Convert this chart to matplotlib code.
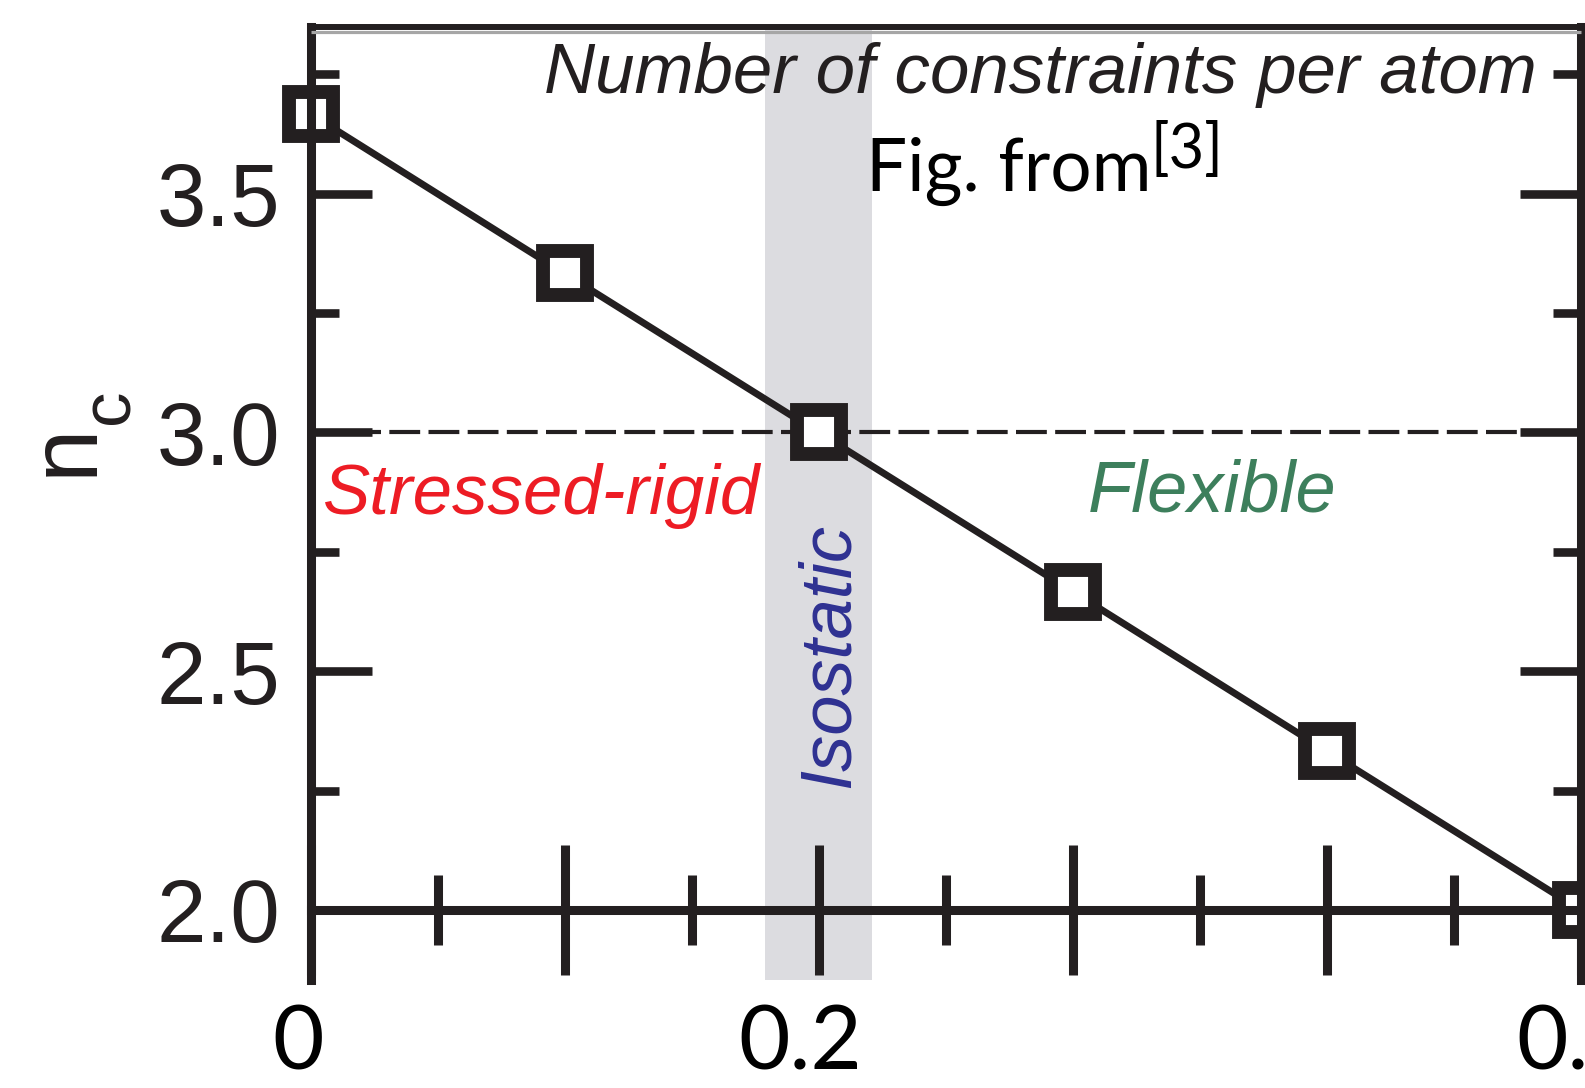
import matplotlib
matplotlib.use("Agg")
import matplotlib.pyplot as plt
import numpy as np
from matplotlib.transforms import ScaledTranslation, blended_transform_factory

# Mean number of constraints per atom versus composition
x = [0.0, 0.1, 0.2, 0.3, 0.4, 0.5]
n_c = [3.667, 3.333, 3.0, 2.667, 2.333, 2.0]

isostatic_band = (0.179, 0.221)
rigidity_threshold = 3.0

x_major = [0.0, 0.1, 0.2, 0.3, 0.4, 0.5]
x_minor = [0.05, 0.15, 0.25, 0.35, 0.45]
x_label_vals = [0.0, 0.2, 0.5]
x_label_text = ["0", "0.2", "0.5"]

y_major = [2.0, 2.5, 3.0, 3.5]
y_major_text = ["2.0", "2.5", "3.0", "3.5"]
y_minor = [2.25, 2.75, 3.25, 3.75]

INK = "#231f20"
W, H = 1585, 1088

plt.rcParams["font.family"] = ["Liberation Sans", "DejaVu Sans"]


def px(xp, yp):
    return xp / W, 1 - yp / H


fig = plt.figure(figsize=(W / 100, H / 100), dpi=100)
ax = fig.add_axes([310.5 / W, 1 - 980 / H, (1580.5 - 310.5) / W, (980 - 27) / H])
ax.set_xlim(0, 0.5)
ax.set_ylim(1.8534, 3.8492)

# shaded isostatic window and the n_c = 3 threshold
ax.axvspan(*isostatic_band, color="#dcdce0", lw=0, zorder=0)
ax.axhline(rigidity_threshold, color=INK, lw=3, ls=(0, (7.4, 2.0)), zorder=1)

ax.plot(x, n_c, color=INK, lw=5, marker="s", ms=31.7, mew=10,
        mfc="white", mec=INK, clip_on=False, zorder=2)

# frame
for side in ["left", "right", "bottom"]:
    ax.spines[side].set_linewidth(6.5)
    ax.spines[side].set_color(INK)
ax.spines["top"].set_linewidth(4.3)
ax.spines["top"].set_color(INK)
ax.spines["bottom"].set_position(("data", 2.0))
ax.plot([0, 1], [1, 1], transform=ax.transAxes + ScaledTranslation(0, -0.05, fig.dpi_scale_trans),
        color="#a6a6a6", lw=2.3, clip_on=False, solid_capstyle="butt", zorder=3)

ax.set_xticks(x_major)
ax.set_xticks(x_minor, minor=True)
ax.tick_params(axis="x", which="both", direction="inout", bottom=True, top=False,
               labelbottom=False, width=6.5, color=INK)
ax.tick_params(axis="x", which="major", length=94)
ax.tick_params(axis="x", which="minor", length=50)

ax.set_yticks(y_major, y_major_text)
ax.set_yticks(y_minor, minor=True)
ax.tick_params(axis="y", which="both", direction="in", left=True, right=True,
               width=6.2, color=INK, labelsize=64, labelcolor=INK, pad=22)
ax.tick_params(axis="y", which="major", length=44)
ax.tick_params(axis="y", which="minor", length=20.5)

# y-axis label n_c, written upward
fig.text(*px(92, 449.5), "n", rotation=90, rotation_mode="anchor", ha="center",
         va="baseline", fontsize=69, color=INK)
fig.text(*px(128, 406), "c", rotation=90, rotation_mode="anchor", ha="center",
         va="baseline", fontsize=51, color=INK)

# x tick labels
x_label_shift = [-12, -18, -2]
for val, txt, dx in zip(x_label_vals, x_label_text, x_label_shift):
    tr = blended_transform_factory(ax.transData, fig.transFigure) + \
        ScaledTranslation(dx / 100, 0, fig.dpi_scale_trans)
    fig.text(val, 1 - 1070 / H, txt, transform=tr, ha="center", va="baseline",
             fontsize=64, family="Lato", color="black")

# annotations
fig.text(*px(1537, 93), "Number of constraints per atom", ha="right", va="baseline",
         fontsize=51, style="italic", color=INK)
fig.text(*px(323, 514), "Stressed-rigid", ha="left", va="baseline",
         fontsize=51, style="italic", color="#ed1c24")
fig.text(*px(1088, 512), "Flexible", ha="left", va="baseline",
         fontsize=52, style="italic", color="#3d7f5c")
fig.text(*px(849, 788), "Isostatic", rotation=90, rotation_mode="anchor", ha="left",
         va="baseline", fontsize=52, style="italic", color="#2e3192")

fig.text(*px(866, 191), "Fig. from", ha="left", va="baseline", fontsize=52.5,
         family="Lato", color="black")
fig.text(*px(1151, 168), "[3]", ha="left", va="baseline", fontsize=44,
         family="Lato", color="black")

fig.savefig("out.png", dpi=100)
